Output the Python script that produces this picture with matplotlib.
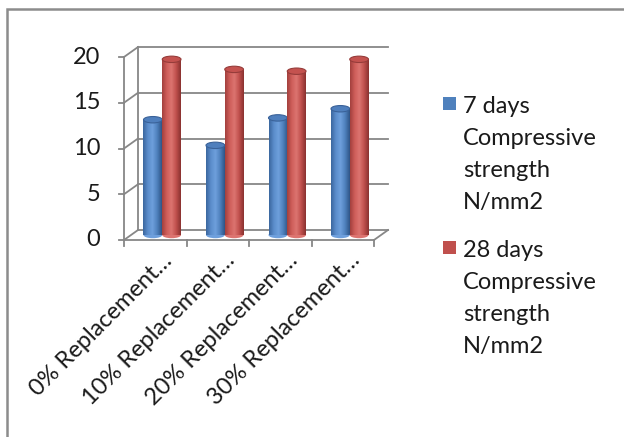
import matplotlib.pyplot as plt
import numpy as np
from matplotlib.patches import Ellipse, Rectangle
from matplotlib.colors import LinearSegmentedColormap

plt.rcParams['font.family'] = ['Lato', 'DejaVu Sans']

categories = ['0% Replacement…', '10% Replacement…', '20% Replacement…', '30% Replacement…']
series_names = ['7 days\nCompressive\nstrength\nN/mm2', '28 days\nCompressive\nstrength\nN/mm2']
days7 = [12.6, 9.8, 12.8, 13.8]
days28 = [19.2, 18.1, 17.9, 19.2]
yticks = [0, 5, 10, 15, 20]

grid_c = '#878787'
blue_cm = LinearSegmentedColormap.from_list('b', ['#3b679f', '#5b8dcb', '#6e9fdc', '#4f81bd', '#2f5587'])
red_cm = LinearSegmentedColormap.from_list('r', ['#a3403d', '#cf5e5a', '#dc7470', '#c0504d', '#8a3230'])
tops = [('#4f7fbd', '#3a6299'), ('#c4524f', '#963c3a')]
legend_c = ['#4f81bd', '#c0504d']

W, H = 624, 437
fig = plt.figure(figsize=(W / 100, H / 100), dpi=100)
ax = fig.add_axes([124 / W, (H - 240) / H, 250 / W, 183 / H])
ax.set_xlim(0, 4)
ax.set_ylim(0, 20)
ax.axis('off')

# depth of the 3d box in data units
dx, dy = 0.224, 1.09
n = len(categories)
lw = 1.3

# back wall, side wall and floor
for k in yticks:
    ax.plot([dx, n + dx], [k + dy, k + dy], color=grid_c, lw=lw, clip_on=False)
    ax.plot([0, dx], [k, k + dy], color=grid_c, lw=lw, clip_on=False)
    ax.plot([-0.08, 0], [k, k], color=grid_c, lw=lw, clip_on=False)
    ax.text(-0.38, k, str(k), ha='right', va='center', fontsize=17, color='#1a1a1a')
ax.plot([dx, dx], [dy, yticks[-1] + dy], color=grid_c, lw=lw, clip_on=False)
ax.plot([0, 0], [0, yticks[-1]], color=grid_c, lw=lw, clip_on=False)
ax.plot([0, n], [0, 0], color=grid_c, lw=lw, clip_on=False)
ax.plot([n, n + dx], [0, dy], color=grid_c, lw=lw, clip_on=False)
for i in range(n + 1):
    ax.plot([i, i], [0, -0.7], color=grid_c, lw=lw, clip_on=False)

# cylinders
grad = np.linspace(0, 1, 64).reshape(1, -1)
bw, eh = 0.3, 0.7
mx, my = dx / 2, dy / 2
for i in range(n):
    for j, vals in enumerate([days7, days28]):
        cm = [blue_cm, red_cm][j]
        xc = i + 0.5 + (j - 0.5) * bw + mx
        z = 3 + i * 2 + j
        ax.add_patch(Ellipse((xc, my), bw, eh, facecolor=cm(0.5), edgecolor='none',
                             zorder=z, clip_on=False))
        ax.imshow(grad, cmap=cm, extent=[xc - bw / 2, xc + bw / 2, my, vals[i] + my],
                  aspect='auto', zorder=z, interpolation='bilinear')
        ax.add_patch(Ellipse((xc, vals[i] + my), bw, eh, facecolor=tops[j][0],
                             edgecolor=tops[j][1], lw=0.8, zorder=z, clip_on=False))
ax.set_xlim(0, 4)
ax.set_ylim(0, 20)

# category labels
for i, lab in enumerate(categories):
    ax.text(i + 0.72, -1.86, lab, rotation=45, rotation_mode='anchor', ha='right',
            va='center', fontsize=17, color='#1a1a1a', clip_on=False)

# legend
starts = [113, 257]
for j, name in enumerate(series_names):
    fig.patches.append(Rectangle((443 / W, 1 - (starts[j] - 3) / H), 13 / W, 13 / H,
                                 transform=fig.transFigure, facecolor=legend_c[j],
                                 edgecolor='none'))
    for k, line in enumerate(name.split('\n')):
        fig.text(463 / W, 1 - (starts[j] + 32 * k) / H, line, ha='left', va='baseline',
                 fontsize=17, color='#1a1a1a')

# chart area border
fig.patches.append(Rectangle((7 / W, -0.1), 2, 1.1 - 9 / H, transform=fig.transFigure,
                             fill=False, edgecolor='#8c8c8c', lw=1.8))

fig.savefig('out.png', dpi=100)
